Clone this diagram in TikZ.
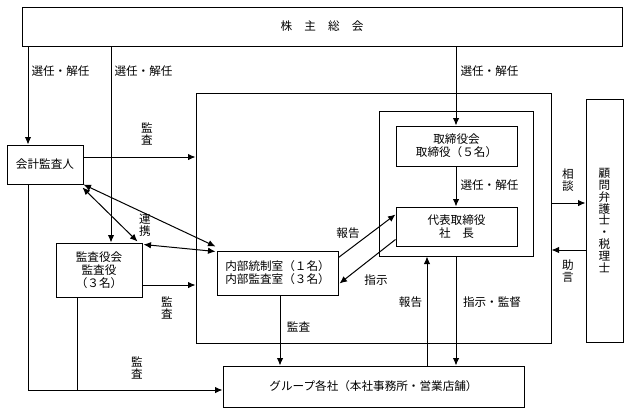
\documentclass[tikz,border=0pt]{standalone}
\usepackage{fontspec}
\setmainfont{Noto Sans CJK JP}
\usetikzlibrary{arrows.meta,calc}
\begin{document}
\begin{tikzpicture}[x=1pt,y=-1pt, line width=1pt,
 box/.style={draw, inner sep=0pt, anchor=center, align=center},
 arr/.style={-{Latex[length=7.5pt,width=6.5pt]}},
 darr/.style={{Latex[length=7.5pt,width=6.5pt]}-{Latex[length=7.5pt,width=6.5pt]}},
 lbl/.style={inner sep=0pt},
 vlbl/.style={inner sep=0pt, align=center, font=\fontsize{11.6}{12.2}\selectfont},
 every node/.style={font=\fontsize{11.6}{13}\selectfont}
]
\useasboundingbox (0,0) rectangle (629,413);

% boxes
\node[box, minimum width=600pt, minimum height=39pt] (top) at (322,26.5) {株\hspace{1.05em}主\hspace{1.05em}総\hspace{1.05em}会};
\node[box, minimum width=76pt, minimum height=39pt] (kaikei) at (45,164.5) {会計監査人};
\node[box, minimum width=86pt, minimum height=54pt] (kansa) at (99,270) {監査役会\\監査役\\（３名）};
\node[box, minimum width=355pt, minimum height=250pt] (outer) at (373.5,218) {};
\node[box, minimum width=154pt, minimum height=145pt] (inner) at (456,183.5) {};
\node[box, minimum width=121pt, minimum height=40pt] (tori) at (456.5,146) {取締役会\\取締役（５名）};
\node[box, minimum width=121pt, minimum height=39pt] (daihyo) at (456.5,226.5) {代表取締役\\社\hspace{1em}長};
\node[box, minimum width=121pt, minimum height=44pt] (naibu) at (277.5,273) {内部統制室（１名）\\内部監査室（３名）};
\node[box, minimum width=301pt, minimum height=41pt] (group) at (373.5,386.5) {グループ各社（本社事務所・営業店舗）};
\node[box, minimum width=37pt, minimum height=243pt, font=\fontsize{11.6}{11.8}\selectfont] (komon) at (604.5,220.5) {顧\\問\\弁\\護\\士\\・\\税\\理\\士};

% helper coordinates
\coordinate (xa) at (28,0);
\coordinate (xb) at (111,0);
\coordinate (xc) at (456,0);
\coordinate (xd) at (280,0);
\coordinate (xe) at (427,0);
\coordinate (xk) at (77,0);
\coordinate (ya) at (0,157);
\coordinate (yk) at (0,285);
\coordinate (ys) at (0,203);
\coordinate (yj) at (0,250);
\coordinate (yb) at (0,390);

% connectors
\draw[arr] (top.south -| xa) -- (kaikei.north -| xa);
\draw[arr] (top.south -| xb) -- (kansa.north -| xb);
\draw[arr] (top.south -| xc) -- (tori.north -| xc);
\draw[arr] (tori.south -| xc) -- (daihyo.north -| xc);
\draw[arr] (kaikei.east |- ya) -- (outer.west |- ya);
\draw[arr] (kansa.east |- yk) -- (outer.west |- yk);
\draw[arr] (outer.east |- ys) -- (komon.west |- ys);
\draw[arr] (komon.west |- yj) -- (outer.east |- yj);
\draw[arr] (naibu.south -| xd) -- (group.north -| xd);
\draw[arr] (group.north -| xe) -- (inner.south -| xe);
\draw[arr] (inner.south -| xc) -- (group.north -| xc);
\draw[arr] ($(naibu.north east)+(0,7)$) -- ($(daihyo.north west)+(0,8)$);
\draw[arr] ($(daihyo.south west)+(0,-7)$) -- ($(naibu.south east)+(1,-12)$);
\draw[darr] (kaikei.south east) -- ($(naibu.north west)+(-1,-4)$);
\draw[darr] ($(kaikei.south east)+(-1,3)$) -- ($(kansa.north east)+(-5,-1)$);
\draw[darr] ($(kansa.north east)+(1,2)$) -- ($(naibu.north west)+(-1,1)$);
\draw[arr] (kaikei.south -| xa) -- (xa |- yb) -- (group.west |- yb);
\draw (kansa.south -| xk) -- (xk |- yb);

% labels
\node[lbl, anchor=west] (l1) at (31,71) {選任・解任};
\node[lbl, anchor=west] (l2) at (114,71) {選任・解任};
\node[lbl, anchor=west] (l3) at (460,71) {選任・解任};
\node[lbl, anchor=west] (l4) at (460,185) {選任・解任};
\node[vlbl] (l5) at (147,134) {監\\査};
\node[vlbl] (l6) at (167,308) {監\\査};
\node[vlbl] (l7) at (137,368) {監\\査};
\node[vlbl] (l8) at (145,225) {連\\携};
\node[lbl] (l9) at (298.5,327) {監査};
\node[lbl] (l10) at (348,233) {報告};
\node[lbl] (l11) at (376,280) {指示};
\node[lbl] (l12) at (410.5,302) {報告};
\node[lbl] (l13) at (492,302) {指示・監督};
\node[vlbl] (l14) at (568,180) {相\\談};
\node[vlbl] (l15) at (568,271) {助\\言};
\end{tikzpicture}
\end{document}
